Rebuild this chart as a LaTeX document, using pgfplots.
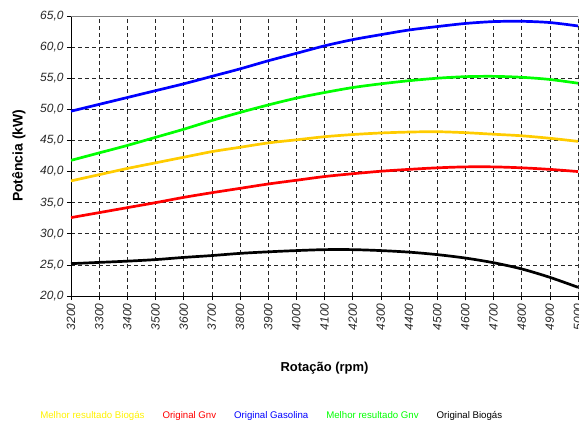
\documentclass[border=0pt]{standalone}
\usepackage{fontspec}
\setmainfont{Liberation Sans}
\usepackage{pgfplots}
\pgfplotsset{compat=1.18}
\definecolor{gold}{RGB}{255,204,0}
\definecolor{lgreen}{RGB}{0,255,0}
\begin{document}
\begin{tikzpicture}
\path[use as bounding box] (-71bp,-127bp) rectangle (508bp,296bp);
\begin{axis}[
  at={(0,0)}, anchor=south west,
  scale only axis, width=507bp, height=280bp,
  xmin=3200, xmax=5000, ymin=20, ymax=65,
  xtick={3200,3300,...,5000}, ytick={20,25,...,65},
  axis lines*=left, axis line style={black, line width=0.8pt},
  tick align=outside, major tick length=4bp, tick style={black, line width=0.6pt},
  grid=major, major grid style={black!85, dash pattern=on 4bp off 3bp, line width=0.6pt},
  /pgf/number format/assume math mode=true,
  xticklabel style={font=\fontsize{12}{14}\selectfont\itshape, color=black!85, rotate=90, anchor=east, /pgf/number format/.cd, set thousands separator={}},
  yticklabel style={font=\fontsize{12}{14}\selectfont\itshape, color=black!85, /pgf/number format/.cd, fixed, fixed zerofill, precision=1, use comma},
  xlabel={\textbf{Rotação (rpm)}},
  ylabel={\textbf{Potência (kW)}},
  xlabel style={font=\fontsize{13}{15}\selectfont, at={(axis description cs:0.5,-0.257)}, anchor=center},
  ylabel style={font=\fontsize{14}{16}\selectfont, at={(axis description cs:-0.1026,0.501)}, anchor=center},
  legend columns=5,
  legend image code/.code={},
  legend style={at={(axis description cs:0.395,-0.4286)}, anchor=center, draw=none, fill=none,
    font=\fontsize{9.7}{11}\selectfont, /tikz/every even column/.append style={column sep=14bp}},
  every axis plot/.append style={line width=2.7bp, smooth},
]
\addplot[gold] coordinates {(3200,38.5) (3300,39.5) (3400,40.5) (3500,41.4) (3600,42.3) (3700,43.2) (3800,43.9) (3900,44.6) (4000,45.1) (4100,45.6) (4200,45.95) (4300,46.2) (4400,46.35) (4500,46.4) (4600,46.25) (4700,46.0) (4800,45.75) (4900,45.35) (5000,44.85)};
\addlegendentry{\textcolor{yellow}{Melhor resultado Biogás}}
\addplot[red] coordinates {(3200,32.6) (3300,33.4) (3400,34.2) (3500,35.0) (3600,35.85) (3700,36.6) (3800,37.3) (3900,38.0) (4000,38.6) (4100,39.2) (4200,39.65) (4300,40.05) (4400,40.35) (4500,40.6) (4600,40.75) (4700,40.75) (4800,40.6) (4900,40.35) (5000,40.0)};
\addlegendentry{\textcolor{red}{Original Gnv}}
\addplot[blue] coordinates {(3200,49.7) (3300,50.8) (3400,51.9) (3500,53.0) (3600,54.1) (3700,55.3) (3800,56.5) (3900,57.8) (4000,59.0) (4100,60.2) (4200,61.2) (4300,62.0) (4400,62.75) (4500,63.3) (4600,63.8) (4700,64.1) (4800,64.15) (4900,63.95) (5000,63.4)};
\addlegendentry{\textcolor{blue}{Original Gasolina}}
\addplot[lgreen] coordinates {(3200,41.8) (3300,43.0) (3400,44.2) (3500,45.5) (3600,46.8) (3700,48.2) (3800,49.5) (3900,50.7) (4000,51.8) (4100,52.7) (4200,53.5) (4300,54.1) (4400,54.6) (4500,55.0) (4600,55.25) (4700,55.3) (4800,55.15) (4900,54.8) (5000,54.2)};
\addlegendentry{\textcolor{lgreen}{Melhor resultado Gnv}}
\addplot[black] coordinates {(3200,25.2) (3300,25.4) (3400,25.6) (3500,25.85) (3600,26.2) (3700,26.5) (3800,26.85) (3900,27.1) (4000,27.3) (4100,27.45) (4200,27.45) (4300,27.3) (4400,27.05) (4500,26.65) (4600,26.1) (4700,25.35) (4800,24.35) (4900,23.0) (5000,21.4)};
\addlegendentry{\textcolor{black}{Original Biogás}}
\draw[gray, line width=0.8pt] (rel axis cs:0,1) -- (rel axis cs:1,1) -- (rel axis cs:1,0);
\end{axis}
\end{tikzpicture}
\end{document}
